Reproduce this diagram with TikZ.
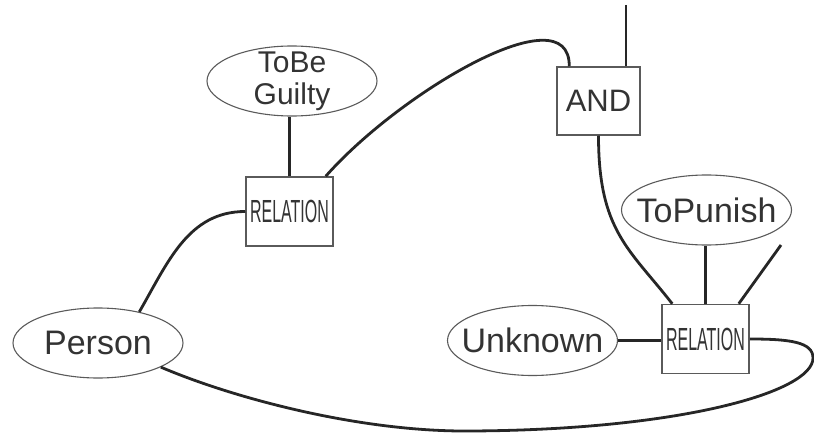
\documentclass[tikz,border=0pt]{standalone}
\usepackage{fontspec}
\setmainfont{Liberation Sans}
\usepackage{xcolor}
\usepackage{graphicx}
\usetikzlibrary{shapes.geometric, arrows}

\definecolor{inkgray}{HTML}{333333}
\definecolor{edgegray}{HTML}{5A5A5A}

\begin{document}
\begin{tikzpicture}[x=1pt, y=1pt, every node/.style={text=inkgray}]
        % Define block styles (ovals for concepts, boxes for relations)
        \tikzstyle{oval} = [ellipse, draw=edgegray, line width=1.1pt,
                            minimum width=170pt, minimum height=70pt, inner sep=0pt]
        \tikzstyle{ovaltext} = [font=\fontsize{34}{36}\selectfont, align=center, inner sep=0pt]
        \tikzstyle{block} = [rectangle, draw=edgegray, line width=1.5pt,
                             minimum width=87pt, minimum height=69pt, inner sep=0pt,
                             font=\fontsize{32}{34}\selectfont]
        \tikzstyle{link} = [line width=2.8pt, draw=black!85]

        \useasboundingbox (0,0) rectangle (814,432);

        % Concepts
        \node (guilty) [oval, label={[ovaltext, font=\fontsize{30}{32}\selectfont]center:ToBe\\Guilty}] at (292,351) {};
        \node (person) [oval, label={[ovaltext]center:Person}] at (98,89) {};
        \node (unknown) [oval, label={[ovaltext]center:Unknown}] at (532.5,91.5) {};
        \node (punish) [oval, label={[ovaltext]center:ToPunish}] at (706.5,222) {};

        % Relations
        \node (rel1) [block] at (289.5,220.5) {\scalebox{0.5}[1]{RELATION}};
        \node (rel2) [block] at (705.5,93) {\scalebox{0.5}[1]{RELATION}};
        \node (and) [block, minimum width=83pt, minimum height=68pt, font=\fontsize{31}{33}\selectfont] at (598.5,331) {AND};

        % Loose ends
        \coordinate (top) at (626,427);
        \coordinate (loose) at (781,187);

        % Connectors
        \draw [link] (rel1.north) -- (rel1.north |- guilty.south);
        \draw [link] ([xshift=-8pt]rel1.north east) .. controls (400,340) and (570,440) .. ([xshift=13pt]and.north west);
        \draw [link] (top) -- (top |- and.north);
        \draw [link] (and.south) to[out=-90, in=128, out distance=95pt, in distance=70pt] ([xshift=11pt]rel2.north west);
        \draw [link] (rel2.north) -- (rel2.north |- punish.south);
        \draw [link] ([xshift=-11pt]rel2.north east) -- (loose);
        \draw [link] (unknown.east) -- (rel2.west |- unknown.east);
        \draw [link] (person.37) to[out=60, in=180] (rel1.west);
        \draw [link] (rel2.east) .. controls (790,93) and (813,90) .. (813,74)
                     .. controls (813,40) and (680,2) .. (470,1)
                     .. controls (360,0) and (233,34) .. (person.-21);
\end{tikzpicture}
\end{document}
